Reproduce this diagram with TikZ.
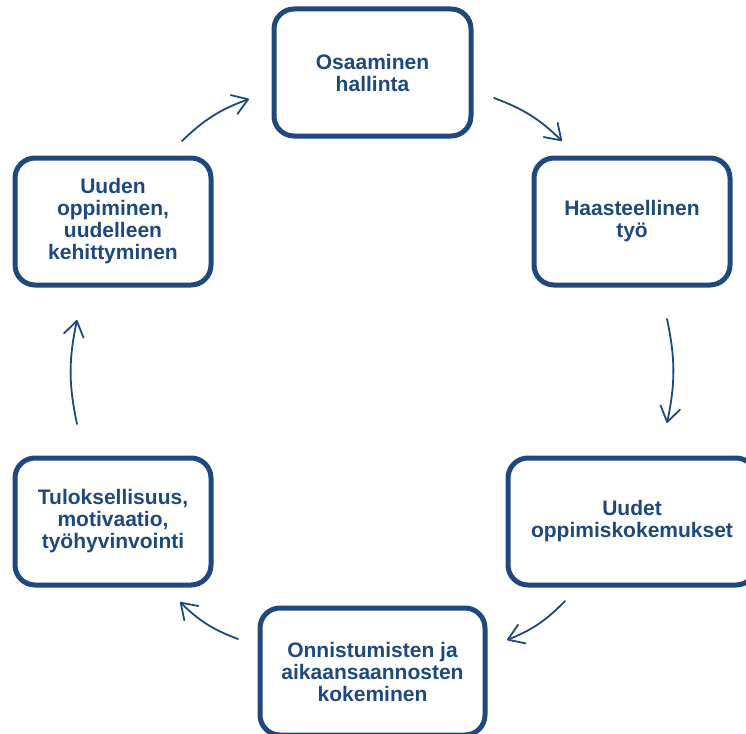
\documentclass[tikz,border=0pt]{standalone}
\usepackage{fontspec}
\setmainfont{Liberation Sans}
\usetikzlibrary{arrows.meta}
\definecolor{navy}{RGB}{31,73,125}
\begin{document}
\begin{tikzpicture}[x=1pt,y=-1pt,
  card/.style={draw=navy, line width=5pt, rounded corners=20pt, fill=white,
    text=navy, font=\fontsize{21}{22}\selectfont\bfseries, align=center,
    inner sep=0pt, minimum width=196pt, minimum height=127pt},
  flow/.style={draw=navy, line width=1.8pt, line cap=round,
    -{Straight Barb[length=15pt,width=20pt,line width=1.8pt,round]},
    bend left=12}]
\useasboundingbox (0,0) rectangle (746,733);
\clip (0,0) rectangle (746,733);

% the six stages of the cycle
\node[card, minimum width=197pt] (osaaminen) at (372.5,72.5) {Osaaminen\\hallinta};
\node[card] (haaste) at (632,221.5) {Haasteellinen\\työ};
\node[card, minimum width=248pt] (uudet) at (632,521.5) {Uudet\\oppimiskokemukset};
\node[card, minimum width=225pt] (onnistuminen) at (372.5,671.5) {Onnistumisten ja\\aikaansaannosten\\kokeminen};
\node[card] (tulos) at (113,521.5) {Tuloksellisuus,\\motivaatio,\\työhyvinvointi};
\node[card] (oppiminen) at (113,221.5) {Uuden\\oppiminen,\\uudelleen\\kehittyminen};

% arrow end points between the stages
\coordinate (a1s) at (494,98);  \coordinate (a1e) at (562,141);
\coordinate (a2s) at (667,319); \coordinate (a2e) at (667,423);
\coordinate (a3s) at (565,601); \coordinate (a3e) at (507,640);
\coordinate (a4s) at (238,639); \coordinate (a4e) at (180,602);
\coordinate (a5s) at (77,424);  \coordinate (a5e) at (77,320);
\coordinate (a6s) at (182,141); \coordinate (a6e) at (249,99);

\draw[flow] (a1s) to (a1e);
\draw[flow] (a2s) to (a2e);
\draw[flow] (a3s) to (a3e);
\draw[flow] (a4s) to (a4e);
\draw[flow] (a5s) to (a5e);
\draw[flow] (a6s) to (a6e);
\end{tikzpicture}
\end{document}
